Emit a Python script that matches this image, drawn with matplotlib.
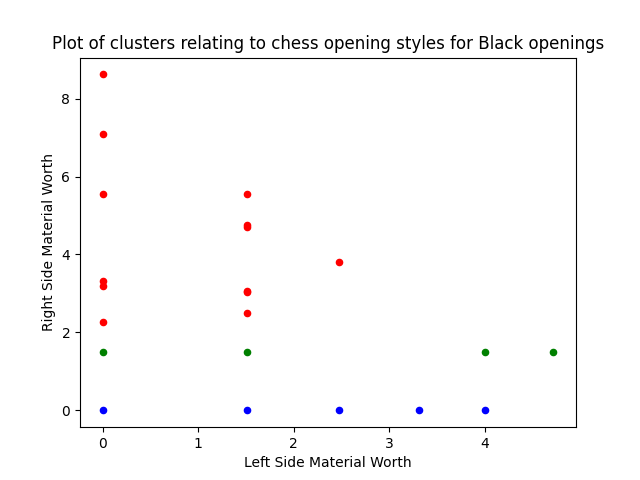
import matplotlib
matplotlib.use("Agg")
import matplotlib.pyplot as plt

red_x = [0, 0, 0, 0, 0, 0, 1.51, 1.51, 1.51, 1.51, 1.51, 1.51, 2.48]
red_y = [8.62, 7.10, 5.54, 3.31, 3.18, 2.28, 5.54, 4.75, 4.71, 3.06, 3.04, 2.49, 3.80]
green_x = [0, 1.51, 4.0, 4.72]
green_y = [1.51, 1.51, 1.51, 1.51]
blue_x = [0, 1.51, 2.48, 3.31, 4.0]
blue_y = [0, 0, 0, 0, 0]

fig, ax = plt.subplots(figsize=(6.4, 4.8), dpi=100)
ax.scatter(red_x, red_y, c='red', s=20)
ax.scatter(green_x, green_y, c='green', s=20)
ax.scatter(blue_x, blue_y, c='blue', s=20)
ax.set_xlabel("Left Side Material Worth")
ax.set_ylabel("Right Side Material Worth")
ax.set_title("Plot of clusters relating to chess opening styles for Black openings")
fig.savefig("out.png")
